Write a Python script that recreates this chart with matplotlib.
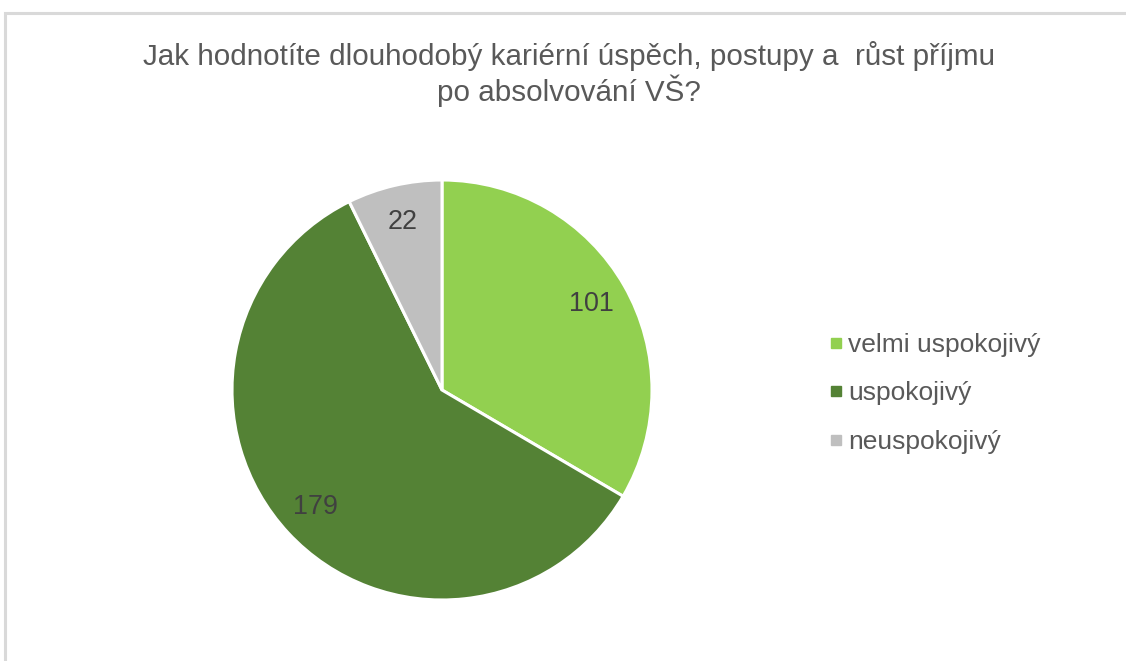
import matplotlib
matplotlib.use("agg")
import matplotlib.pyplot as plt
from matplotlib.lines import Line2D
from matplotlib.patches import Rectangle

# data
categories = ["velmi uspokojivý", "uspokojivý", "neuspokojivý"]
counts = [101, 179, 22]
colors = ["#92D050", "#548235", "#BFBFBF"]
title = "Jak hodnotíte dlouhodobý kariérní úspěch, postupy a  růst příjmu\npo absolvování VŠ?"

plt.rcParams["font.family"] = ["Liberation Sans", "DejaVu Sans"]
total = sum(counts)

fig = plt.figure(figsize=(11.26, 6.61), dpi=100)
fig.patch.set_facecolor("white")

# light gray frame, cut off at right and bottom like the screenshot
fig.patches.append(Rectangle((5 / 1126, -0.05), 1.2, (661 - 13) / 661 + 0.05,
                             transform=fig.transFigure, fill=False,
                             edgecolor="#D9D9D9", linewidth=2.2, zorder=0))

ax = fig.add_axes([232 / 1126, 61 / 661, 420 / 1126, 420 / 661])
wedges, texts, autotexts = ax.pie(
    counts, colors=colors, startangle=90, counterclock=False, radius=1,
    autopct=lambda p: f"{round(p * total / 100)}", pctdistance=0.82,
    wedgeprops=dict(edgecolor="white", linewidth=2.2),
    textprops=dict(fontsize=19.4, color="#404040"))
ax.set_xlim(-1, 1)
ax.set_ylim(-1, 1)
ax.set_aspect("equal")
ax.axis("off")

fig.text(569 / 1126, 1 - 74 / 661, title, ha="center", va="center",
         fontsize=21.3, color="#595959", linespacing=1.1)

handles = [Line2D([], [], marker="s", linestyle="none", markersize=6.5,
                  markerfacecolor=c, markeredgecolor=c) for c in colors]
fig.legend(handles, categories, loc="upper left",
           bbox_to_anchor=(815 / 1126, 1 - 320 / 661), frameon=False,
           fontsize=19, labelcolor="#595959", handlelength=0.6,
           handletextpad=0.15, labelspacing=0.92, borderpad=0)

fig.savefig("out.png", dpi=100)
